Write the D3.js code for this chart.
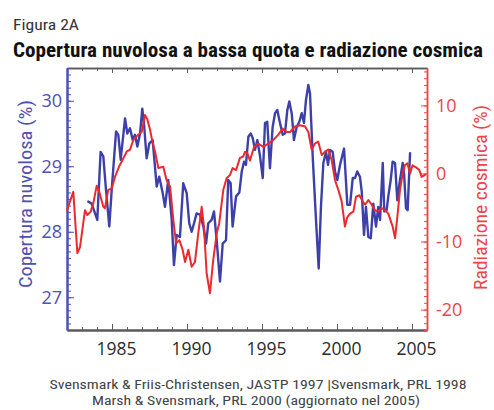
<!DOCTYPE html>
<html>
<head>
<meta charset="utf-8">
<script src="https://cdn.jsdelivr.net/npm/d3@7"></script>
<style>
  body { margin: 0; background: #fff; }
  svg { display: block; }
  .narrow { font-family: "Liberation Sans Narrow", "Roboto Condensed", "Arial Narrow", sans-serif; }
  .tick text { font-family: "Open Sans", "Noto Sans", sans-serif; }
</style>
</head>
<body>
<svg id="chart" width="494" height="410"></svg>
<script>
// Low cloud cover (%) – time of sample (decimal year) and value
const cloudYears = [
  1983.42, 1983.64, 1983.87, 1984.02, 1984.24, 1984.42, 1984.60, 1984.82, 1984.98,
  1985.27, 1985.42, 1985.58, 1985.87, 1986.02, 1986.20, 1986.38, 1986.53, 1986.69, 1986.87,
  1987.02, 1987.13, 1987.31, 1987.49, 1987.71, 1987.98, 1988.15, 1988.38, 1988.53, 1988.75, 1988.98,
  1989.13, 1989.31, 1989.53, 1989.75, 1989.98, 1990.15, 1990.31, 1990.47, 1990.64, 1990.87,
  1991.09, 1991.27, 1991.42, 1991.64, 1991.80, 1991.98, 1992.20, 1992.38, 1992.60, 1992.75, 1992.91,
  1993.04, 1993.27, 1993.49, 1993.65, 1993.80, 1993.93, 1994.09, 1994.25, 1994.38, 1994.53, 1994.69, 1994.87,
  1995.05, 1995.20, 1995.35, 1995.53, 1995.71, 1995.87, 1996.02, 1996.20, 1996.38, 1996.53, 1996.69, 1996.82, 1996.98,
  1997.13, 1997.31, 1997.49, 1997.65, 1997.80, 1997.93, 1998.09, 1998.20, 1998.38, 1998.60, 1998.78, 1998.93,
  1999.09, 1999.27, 1999.40, 1999.53, 1999.71, 1999.87, 2000.02, 2000.20, 2000.47, 2000.69, 2000.87,
  2001.05, 2001.20, 2001.35, 2001.53, 2001.65, 2001.80, 2001.93, 2002.09, 2002.25, 2002.42, 2002.60, 2002.75, 2002.87,
  2003.05, 2003.15, 2003.31, 2003.42, 2003.58, 2003.71, 2003.87, 2004.02, 2004.20, 2004.38, 2004.47, 2004.60, 2004.71, 2004.87
];
const cloudValues = [
  28.46, 28.43, 28.28, 28.18, 29.22, 29.15, 28.64, 28.08, 28.64,
  29.53, 29.48, 29.10, 29.73, 29.50, 29.58, 29.40, 29.48, 29.30, 29.50,
  29.88, 29.66, 29.12, 29.35, 29.40, 28.69, 28.84, 28.59, 28.38, 28.79, 28.18,
  27.49, 27.95, 27.92, 28.74, 28.59, 28.13, 28.00, 28.13, 28.28, 28.26,
  28.08, 27.82, 28.13, 28.18, 28.31, 27.87, 27.24, 27.82, 27.87, 28.79, 28.74,
  28.08, 28.54, 28.60, 28.92, 29.07, 29.02, 29.45, 29.50, 29.43, 29.25, 29.40, 29.15,
  28.82, 29.66, 29.68, 28.97, 29.60, 29.81, 29.86, 29.66, 29.48, 29.50, 29.86, 29.99, 29.81,
  29.40, 29.60, 29.68, 29.81, 29.66, 30.01, 30.24, 30.11, 29.15, 28.18, 27.44, 28.38,
  29.05, 29.22, 29.02, 29.25, 29.22, 28.92, 28.79, 29.02, 29.27, 28.41, 28.41,
  28.82, 28.82, 28.92, 28.84, 28.61, 27.95, 28.38, 27.92, 27.90, 28.43, 28.08, 28.38, 28.18,
  29.05, 28.31, 28.33, 28.54, 28.79, 29.07, 29.05, 28.48, 28.79, 29.05, 28.89, 28.36, 28.33, 29.20
];

// Cosmic ray flux, deviation from mean (%)
const cosmicYears = [
  1982.00, 1982.42, 1982.69, 1982.87, 1983.20, 1983.35, 1983.58, 1983.75, 1983.98, 1984.15, 1984.42, 1984.53, 1984.75, 1984.98,
  1985.20, 1985.49, 1985.75, 1985.98, 1986.20, 1986.42, 1986.75, 1986.98, 1987.20, 1987.35, 1987.53, 1987.70, 1987.87,
  1988.09, 1988.42, 1988.64, 1988.87, 1989.09, 1989.27, 1989.49, 1989.71, 1989.87, 1990.09, 1990.31, 1990.53, 1990.75, 1990.98,
  1991.13, 1991.31, 1991.53, 1991.75, 1991.98, 1992.15, 1992.42, 1992.64, 1992.87, 1993.04, 1993.27, 1993.53, 1993.75, 1993.87,
  1994.02, 1994.20, 1994.47, 1994.75, 1995.09, 1995.42, 1995.75, 1996.09, 1996.38, 1996.64, 1996.87, 1997.20, 1997.53, 1997.87,
  1998.09, 1998.31, 1998.53, 1998.75, 1998.98, 1999.20, 1999.42, 1999.64, 1999.87, 2000.09, 2000.31, 2000.53, 2000.69, 2000.87,
  2001.09, 2001.27, 2001.49, 2001.71, 2001.87, 2002.09, 2002.31, 2002.53, 2002.75, 2002.98, 2003.20, 2003.42, 2003.71, 2003.87,
  2004.02, 2004.20, 2004.38, 2004.53, 2004.69, 2004.87, 2005.04, 2005.27, 2005.49, 2005.64, 2005.87
];
const cosmicValues = [
  -5.4, -2.7, -11.7, -10.8, -5.4, -6.1, -5.6, -4.4, -1.8, -2.7, -4.9, -5.1, -2.4, -2.2,
  -0.5, 1.1, 2.2, 3.2, 3.5, 4.9, 5.7, 6.1, 8.6, 8.0, 6.5, 4.6, 3.2,
  0.8, 1.0, -1.0, -1.9, -6.8, -10.3, -9.8, -11.2, -13.0, -11.2, -13.7, -13.0, -8.8, -4.9,
  -7.8, -14.7, -17.6, -12.7, -8.8, -7.3, -2.4, -0.7, -0.2, 0.8, 0.5, 2.3, 2.5, 3.2,
  3.0, 1.9, 3.9, 4.4, 3.9, 4.4, 4.9, 5.7, 6.6, 6.1, 6.1, 6.9, 7.1, 6.9,
  6.1, 3.5, 4.4, 4.7, 2.7, 3.2, 3.5, 2.0, -1.0, -2.4, -4.1, -7.8, -6.4, -5.9,
  -5.6, -3.4, -3.2, -4.1, -4.6, -3.9, -4.6, -5.4, -5.6, -5.1, -5.4, -5.9, -7.8, -9.5,
  -6.4, -2.4, 0.0, 1.2, 1.5, 0.0, 1.2, 0.9, 0.5, -0.5, -0.2
];

const yearTicks = [1985, 1990, 1995, 2000, 2005];
const cloudTicks = [27, 28, 29, 30];
const cosmicTicks = [-20, -10, 0, 10];

const BLUE = "#3d40a8", BLUE_TEXT = "#4d50b4", RED = "#ea2a2f", RED_TEXT = "#ee4448", GREY = "#5a5a5a";

const svg = d3.select("#chart");
svg.append("rect").attr("width", 494).attr("height", 410).attr("fill", "#fff");

// Plot frame
const L = 67, R = 427, T = 68, B = 330;
const x = d3.scaleLinear().domain([1982, 2006]).range([L, R]);
const yCloud = d3.scaleLinear().domain([26.5, 30.5]).range([B, T]);
const yCosmic = d3.scaleLinear().domain([-23, 15.5]).range([B, T]);

// Headings
svg.append("text").attr("class", "narrow")
  .attr("x", 13).attr("y", 29.5)
  .attr("font-size", 15).attr("fill", "#333")
  .attr("textLength", 66).attr("lengthAdjust", "spacingAndGlyphs")
  .text("Figura 2A");
svg.append("text").attr("class", "narrow")
  .attr("x", 13).attr("y", 56.5)
  .attr("font-size", 21).attr("font-weight", "bold").attr("fill", "#111")
  .attr("textLength", 470).attr("lengthAdjust", "spacingAndGlyphs")
  .text("Copertura nuvolosa a bassa quota e radiazione cosmica");

// Minor tick helpers
const yearMinor = d3.range(1982, 2007);
const cloudMinor = d3.range(266, 306).map(v => v / 10);
const cosmicMinor = d3.range(-23, 16);

// Bottom and top axes (ticks pointing inward)
function styleAxis(g, color, width) {
  g.select(".domain").attr("stroke", color).attr("stroke-width", width);
  g.selectAll(".tick line").attr("stroke", color).attr("stroke-width", 1);
}
const gBottomMinor = svg.append("g").attr("transform", `translate(0,${B})`)
  .call(d3.axisBottom(x).tickValues(yearMinor).tickSize(-3).tickSizeOuter(0).tickFormat(""));
styleAxis(gBottomMinor, GREY, 2);
const gBottom = svg.append("g").attr("transform", `translate(0,${B})`)
  .call(d3.axisBottom(x).tickValues(yearTicks).tickSize(-6).tickSizeOuter(0).tickPadding(13).tickFormat(d3.format("d")));
styleAxis(gBottom, GREY, 2);
gBottom.selectAll(".tick text").attr("font-size", 17.5).attr("fill", "#2a2a2a").attr("dx", 4);

const gTopMinor = svg.append("g").attr("transform", `translate(0,${T})`)
  .call(d3.axisTop(x).tickValues(yearMinor).tickSize(-3).tickSizeOuter(0).tickFormat(""));
styleAxis(gTopMinor, GREY, 1.5);
const gTop = svg.append("g").attr("transform", `translate(0,${T})`)
  .call(d3.axisTop(x).tickValues(yearTicks).tickSize(-5).tickSizeOuter(0).tickFormat(""));
styleAxis(gTop, GREY, 1.5);

// Left axis: cloud cover
const gLeftMinor = svg.append("g").attr("transform", `translate(${L},0)`)
  .call(d3.axisLeft(yCloud).tickValues(cloudMinor).tickSize(-4).tickSizeOuter(0).tickFormat(""));
styleAxis(gLeftMinor, BLUE_TEXT, 2);
const gLeft = svg.append("g").attr("transform", `translate(${L},0)`)
  .call(d3.axisLeft(yCloud).tickValues(cloudTicks).tickSize(-7).tickSizeOuter(0).tickPadding(5).tickFormat(d3.format("d")));
styleAxis(gLeft, BLUE_TEXT, 2);
gLeft.selectAll(".tick text").attr("font-size", 18).attr("fill", BLUE_TEXT);

// Right axis: cosmic rays
const gRightMinor = svg.append("g").attr("transform", `translate(${R},0)`)
  .call(d3.axisRight(yCosmic).tickValues(cosmicMinor).tickSize(-3).tickSizeOuter(0).tickFormat(""));
styleAxis(gRightMinor, RED_TEXT, 1.5);
const gRight = svg.append("g").attr("transform", `translate(${R},0)`)
  .call(d3.axisRight(yCosmic).tickValues(cosmicTicks).tickSize(-6).tickSizeOuter(0).tickPadding(9).tickFormat(d => String(d)));
styleAxis(gRight, RED_TEXT, 1.5);
gRight.selectAll(".tick text").attr("font-size", 18).attr("fill", RED_TEXT);

// Axis titles
svg.append("text").attr("class", "narrow")
  .attr("transform", "translate(32,194) rotate(-90)")
  .attr("text-anchor", "middle").attr("font-size", 19).attr("fill", BLUE_TEXT)
  .attr("textLength", 188).attr("lengthAdjust", "spacingAndGlyphs")
  .text("Copertura nuvolosa (%)");
svg.append("text").attr("class", "narrow")
  .attr("transform", "translate(487,197.5) rotate(-90)")
  .attr("text-anchor", "middle").attr("font-size", 19).attr("fill", RED_TEXT)
  .attr("textLength", 185).attr("lengthAdjust", "spacingAndGlyphs")
  .text("Radiazione cosmica (%)");

// Series
const cloudLine = d3.line().x((d, i) => x(cloudYears[i])).y(d => yCloud(d));
const cosmicLine = d3.line().x((d, i) => x(cosmicYears[i])).y(d => yCosmic(d));

svg.append("path").datum(cloudValues)
  .attr("d", cloudLine).attr("fill", "none")
  .attr("stroke", BLUE).attr("stroke-width", 2.4)
  .attr("stroke-linejoin", "round").attr("stroke-linecap", "round");
svg.append("path").datum(cosmicValues)
  .attr("d", cosmicLine).attr("fill", "none")
  .attr("stroke", RED).attr("stroke-width", 2)
  .attr("stroke-linejoin", "round").attr("stroke-linecap", "round");

// Sources
const foot = svg.append("g").attr("class", "narrow").attr("fill", "#444").attr("font-size", 13.5).attr("text-anchor", "middle");
foot.append("text").attr("x", 258).attr("y", 389)
  .attr("textLength", 417).attr("lengthAdjust", "spacingAndGlyphs")
  .text("Svensmark & Friis-Christensen, JASTP 1997 |Svensmark, PRL 1998");
foot.append("text").attr("x", 256).attr("y", 404.5)
  .attr("textLength", 328).attr("lengthAdjust", "spacingAndGlyphs")
  .text("Marsh & Svensmark, PRL 2000 (aggiornato nel 2005)");
</script>
</body>
</html>
